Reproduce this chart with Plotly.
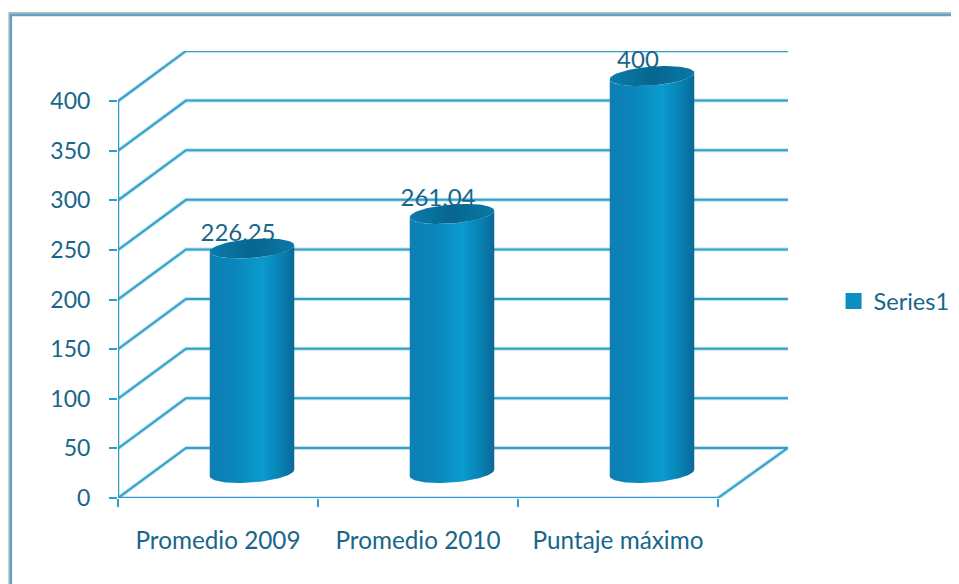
import numpy as np
import plotly.graph_objects as go

# ── Data ──────────────────────────────────────────────────────────────────────
categories = ["Promedio 2009", "Promedio 2010", "Puntaje máximo"]
values = [226.25, 261.04, 400]
value_labels = ["226,25", "261,04", "400"]
y_ticks = [0, 50, 100, 150, 200, 250, 300, 350, 400]
series_name = "Series1"

# ── Oblique 3D look, in axis units ────────────────────────────────────────────
DEPTH_X = 0.34    # how far the back wall shifts right
DEPTH_Y = 50.5    # how far the back wall shifts up
RAD_X = 0.2       # cylinder radius along the category axis
RAD_D = 0.2       # cylinder radius along the depth
X_MAX = 3.35
Y_MAX = 450.5

TEXT = "#18668a"
GRID = "#3a9dc4"
HALO = "#b5e6f6"
FONT = "Lato"

body_scale = [[0, "#0d7fb4"], [0.3, "#0a86bb"], [0.62, "#0a9bce"], [0.85, "#0880b2"], [1, "#0a6898"]]
cap_scale = [[0, "#0a7cab"], [0.5, "#066690"], [1, "#0a78a6"]]


def outline(cx, cy, t):
    return cx + RAD_X * np.cos(t) + RAD_D * DEPTH_X * np.sin(t), cy + RAD_D * DEPTH_Y * np.sin(t)


fig = go.Figure()

# ── Walls: grid lines go along the side wall, then along the back wall ───────
wall_x, wall_y = [], []
for v in y_ticks:
    wall_x += [0, DEPTH_X, X_MAX, None]
    wall_y += [v, v + DEPTH_Y, v + DEPTH_Y, None]
wall_x += [len(categories), X_MAX]
wall_y += [0, DEPTH_Y]

for color, width in [(HALO, 4), (GRID, 2)]:
    fig.add_trace(go.Scatter(x=wall_x, y=wall_y, mode="lines", cliponaxis=False,
                             line=dict(color=color, width=width), showlegend=False))

# Axis lines stop at 400 and at the last category, so they are traces as well
fig.add_trace(go.Scatter(x=[0, 0, None, 0, len(categories)], y=[0, y_ticks[-1], None, 0, 0],
                         mode="lines", cliponaxis=False,
                         line=dict(color="#2b9fcb", width=2.5), showlegend=False))

# ── Cylinders ─────────────────────────────────────────────────────────────────
t0 = np.arctan2(RAD_D * DEPTH_X, RAD_X)
front = np.linspace(t0, t0 - np.pi, 60)
full = np.linspace(0, 2 * np.pi, 90)

for i, v in enumerate(values):
    cx = i + 0.5 + DEPTH_X / 2
    cy = DEPTH_Y / 2
    bx, by = outline(cx, cy, front)
    tx, ty = outline(cx, cy + v, front[::-1])
    fig.add_trace(go.Scatter(
        x=np.concatenate([bx, tx]), y=np.concatenate([by, ty]),
        mode="lines", fill="toself", line=dict(width=0),
        fillgradient=dict(type="horizontal", colorscale=body_scale),
        showlegend=False,
    ))
    cap_x, cap_y = outline(cx, cy + v, full)
    fig.add_trace(go.Scatter(
        x=cap_x, y=cap_y,
        mode="lines", fill="toself", line=dict(width=0),
        fillgradient=dict(type="horizontal", colorscale=cap_scale),
        showlegend=False,
    ))

# ── Data labels ───────────────────────────────────────────────────────────────
fig.add_trace(go.Scatter(
    x=[i + 0.5 + DEPTH_X / 2 - 0.07 for i in range(len(values))],
    y=[v + DEPTH_Y / 2 + 14 for v in values],
    text=value_labels, mode="text", textposition="middle center", cliponaxis=False,
    textfont=dict(family=FONT, size=24, color=TEXT), showlegend=False,
))

# Legend entry only
fig.add_trace(go.Scatter(x=[None], y=[None], mode="markers", name=series_name,
                         marker=dict(symbol="square", size=16, color="#0a8fc4")))

# The page puts the figure 8px in from the window corner, hence the smaller l and t
px_w, px_h = 787 - 118, 497 - 51
fig.update_layout(
    width=959, height=584,
    margin=dict(l=110, r=176.5, t=42.5, b=93.5),
    paper_bgcolor="white", plot_bgcolor="white",
    font=dict(family=FONT, size=23, color=TEXT),
    xaxis=dict(
        range=[0, X_MAX], showgrid=False, zeroline=False, showline=False,
        tickmode="array", tickvals=[i + 0.5 for i in range(len(categories))],
        ticktext=categories, ticks="", ticklabelstandoff=26,
        tickfont=dict(family=FONT, size=24.3, color=TEXT),
        minor=dict(tickmode="array", tickvals=list(range(len(categories) + 1)),
                   ticks="outside", ticklen=8, tickwidth=2, tickcolor="#2b9fcb"),
    ),
    yaxis=dict(
        range=[0, Y_MAX], showgrid=False, zeroline=False, showline=False,
        tickmode="array", tickvals=y_ticks,
        ticks="outside", ticklen=8, tickwidth=2, tickcolor="#2b9fcb",
        ticklabelstandoff=14,
    ),
    legend=dict(x=1.068, y=0.44, xanchor="left", yanchor="middle",
                bgcolor="rgba(0,0,0,0)", font=dict(family=FONT, size=23.5, color=TEXT)),
    # Outer chart frame, open to the right and bottom of the picture
    shapes=[
        dict(type="path", xref="paper", yref="paper", layer="below",
             path=f"M {(x - 118) / px_w} {(497 - 600) / px_h} L {(x - 118) / px_w} {(497 - y) / px_h} "
                  f"L {(975 - 118) / px_w} {(497 - y) / px_h}",
             line=dict(color=color, width=width))
        for x, y, color, width in [(9.5, 13, "#b4bcc0", 2), (11, 15, "#5aa6c4", 2.5)]
    ],
)

fig.write_html("out.html")
